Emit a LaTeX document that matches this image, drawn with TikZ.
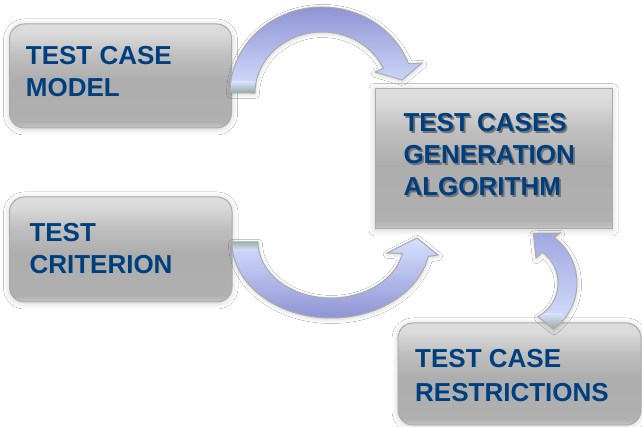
\documentclass[tikz,border=0pt]{standalone}
\usepackage{fontspec}
\setmainfont{Liberation Sans}
\usetikzlibrary{shadows.blur}
\definecolor{txtblue}{RGB}{0,63,125}
\definecolor{txtshade}{rgb}{.45,.45,.47}
\definecolor{arrdark}{rgb}{.56,.58,.83}
\definecolor{arrmid}{rgb}{.79,.83,.99}
\definecolor{arrlight}{rgb}{.84,.88,1}
\definecolor{tailgreen}{rgb}{.55,.65,.58}
\definecolor{edgegray}{rgb}{.67,.67,.67}
\pgfdeclareverticalshading{boxshade}{100bp}{rgb(0bp)=(.78,.78,.78); rgb(25bp)=(.78,.78,.78); rgb(28bp)=(.69,.69,.69); rgb(48bp)=(.68,.68,.68); rgb(60bp)=(.75,.75,.75); rgb(70bp)=(.85,.85,.85); rgb(75bp)=(.87,.87,.87); rgb(100bp)=(.87,.87,.87)}
\newcommand\arrowApath{(230,334) arc[start angle=180,end angle=20,x radius=92,y radius=86] -- (422,364) -- (402,347) -- (375,355) -- (383.2,358.8) arc[start angle=24,end angle=180,x radius=67,y radius=61] -- cycle}
\newcommand\arrowBpath{(232,185) arc[start angle=180,end angle=349,x radius=99,y radius=76] -- (438,172) -- (417,189) -- (387,174) -- (402.4,173.4) arc[start angle=348,end angle=180,x radius=73,y radius=56] -- cycle}
\newcommand\arrowCpath{(553.5,97.9) arc[start angle=-54,end angle=53,radius=57] -- (560,194) -- (533.3,193.7) -- (536,169) -- (542.3,174.7) arc[start angle=54,end angle=-62,radius=38] -- cycle}
\newcommand\shadowedtext[1]{\rlap{\kern1.8pt\raisebox{-1.8pt}{\textcolor{txtshade}{#1}}}#1}
\begin{document}
\begin{tikzpicture}[x=1pt,y=1pt,
  boxstyle/.style={draw=edgegray, line width=1pt, shade, shading=boxshade,
    blur shadow={shadow xshift=0pt, shadow yshift=-1pt, shadow blur radius=6pt, shadow opacity=20},
    inner sep=0pt},
  txt/.style={text=txtblue, font=\bfseries\fontsize{26}{32}\selectfont, inner sep=0pt, anchor=base west},
  arrline/.style={draw=edgegray, line width=1pt},
  arrshadow/.style={blur shadow={shadow xshift=0.5pt, shadow yshift=-1.5pt, shadow blur radius=4pt, shadow opacity=18}}]
\useasboundingbox (0,0) rectangle (642,427);
\fill[white] (0,0) rectangle (642,427);
% boxes
\node[boxstyle, rounded corners=15pt, minimum width=222pt, minimum height=104pt] (model) at (120.5,351) {};
\node[boxstyle, rounded corners=15pt, minimum width=222.5pt, minimum height=105pt] (crit) at (120.75,177.5) {};
\node[boxstyle, minimum width=237pt, minimum height=140.5pt] (algo) at (493.5,268.25) {};
\node[boxstyle, rounded corners=15pt, minimum width=243pt, minimum height=102pt] (restr) at (519.5,53) {};
% texts
\node[txt] (modelA) at (25.7,362.7) {TEST CASE};
\node[txt] (modelB) at (25.7,330.5) {MODEL};
\node[txt] (critA) at (29.3,185.3) {TEST};
\node[txt] (critB) at (29.3,153.7) {CRITERION};
\node[txt] (algoA) at (403.3,295) {\shadowedtext{TEST CASES}};
\node[txt] (algoB) at (403.3,263) {\shadowedtext{GENERATION}};
\node[txt] (algoC) at (403.3,231) {\shadowedtext{ALGORITHM}};
\node[txt] (restrA) at (415,59) {TEST CASE};
\node[txt] (restrB) at (415,25) {RESTRICTIONS};
% arrow 1: model -> algo
\shade[arrshadow, top color=arrdark, middle color=arrmid, bottom color=arrlight] \arrowApath;
\begin{scope}
\clip \arrowApath;
\shade[top color=arrlight, bottom color=tailgreen] (225,333) rectangle (262,345);
\end{scope}
\draw[arrline] \arrowApath;
% arrow 2: crit -> algo
\shade[arrshadow, top color=arrlight, middle color=arrmid, bottom color=arrdark] \arrowBpath;
\begin{scope}
\clip \arrowBpath;
\shade[top color=tailgreen, bottom color=arrlight] (228,176) rectangle (262,188);
\end{scope}
\draw[arrline] \arrowBpath;
% arrow 3: restr -> algo
\shade[arrshadow, top color=arrdark!75!arrlight, middle color=arrlight, bottom color=arrlight] \arrowCpath;
\begin{scope}
\clip \arrowCpath;
\shade[top color=arrlight, bottom color=tailgreen] (530,96) rectangle (562,113);
\end{scope}
\draw[arrline] \arrowCpath;
\end{tikzpicture}
\end{document}
